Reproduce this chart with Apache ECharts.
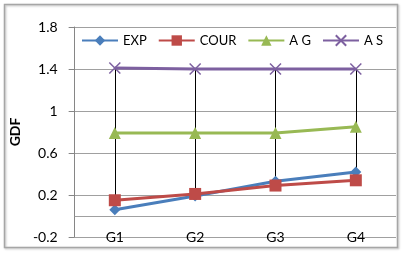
<!DOCTYPE html>
<html><head><meta charset="utf-8">
<script src="https://cdn.jsdelivr.net/npm/echarts@6/dist/echarts.min.js"></script>
<style>html,body{margin:0;padding:0;background:#fff}#c{width:403px;height:256px}</style>
</head><body><div id="c"></div>
<script>
const categories = ['G1', 'G2', 'G3', 'G4'];
const seriesNames = ['EXP', 'COUR', 'A G', 'A S'];
const expValues = [0.06, 0.19, 0.33, 0.42];
const courValues = [0.15, 0.21, 0.29, 0.34];
const agValues = [0.79, 0.79, 0.79, 0.85];
const asValues = [1.41, 1.40, 1.40, 1.40];
const yTicks = { min: -0.2, max: 1.8, interval: 0.4 };

const allSeries = [expValues, courValues, agValues, asValues];
const hiLo = categories.map((c, i) => {
  const vals = allSeries.map(s => s[i]);
  return [i, Math.max(...vals), Math.min(...vals)];
});

const FONT = 'Lato';
const chart = echarts.init(document.getElementById('c'), null, { renderer: 'canvas' });
const crossPath = 'path://M0,0 L10,10 M10,0 L0,10';

chart.setOption({
  animation: false,
  textStyle: { fontFamily: FONT },
  graphic: [{
    type: 'rect', shape: { x: 4.5, y: 4.5, width: 393, height: 243 },
    style: { fill: 'none', stroke: '#a6a6a6', lineWidth: 1.5, shadowBlur: 2, shadowColor: 'rgba(0,0,0,0.25)', shadowOffsetX: 1, shadowOffsetY: 1 },
    z: -10
  }],
  grid: { left: 64, top: 27, width: 332, height: 210, containLabel: false },
  legend: {
    left: 76, top: 29, width: 322, itemWidth: 36, itemHeight: 13, itemGap: 11,
    textStyle: { fontFamily: FONT, fontSize: 13, color: '#000' },
    data: seriesNames
  },
  xAxis: {
    type: 'category', data: categories, boundaryGap: true,
    axisLine: { show: false, onZero: false }, axisTick: { show: false },
    axisLabel: { color: '#000', fontSize: 14, fontFamily: FONT, margin: -7 },
    splitLine: { show: false }
  },
  yAxis: {
    type: 'value', min: yTicks.min, max: yTicks.max, interval: yTicks.interval,
    name: 'GDF', nameLocation: 'middle', nameGap: 37,
    nameTextStyle: { fontWeight: 'bold', fontSize: 14, color: '#000', fontFamily: FONT },
    axisLine: { show: true, lineStyle: { color: '#868686' } },
    axisTick: { show: true, length: 6, lineStyle: { color: '#868686' } },
    axisLabel: { color: '#000', fontSize: 14, fontFamily: FONT, margin: 17 },
    splitLine: { show: true, lineStyle: { color: '#a0a0a0', width: 1 } }
  },
  series: [
    {
      type: 'custom', name: 'hilo', z: 1, silent: true,
      renderItem: function (params, api) {
        const p1 = api.coord([api.value(0), api.value(1)]);
        const p2 = api.coord([api.value(0), api.value(2)]);
        return { type: 'line', shape: { x1: Math.round(p1[0]) + 0.5, y1: p1[1], x2: Math.round(p2[0]) + 0.5, y2: p2[1] },
          style: { stroke: '#000', lineWidth: 1 } };
      },
      encode: { x: 0, y: [1, 2] },
      data: hiLo,
      markLine: {
        silent: true, symbol: 'none', label: { show: false },
        lineStyle: { color: '#a0a0a0', type: 'solid', width: 1 },
        data: [{ yAxis: 0 }]
      }
    },
    {
      name: 'EXP', type: 'line', data: expValues, z: 3,
      symbol: 'diamond', symbolSize: 11,
      lineStyle: { color: '#4a7ebb', width: 3 }, itemStyle: { color: '#4a7ebb' }
    },
    {
      name: 'COUR', type: 'line', data: courValues, z: 4,
      symbol: 'rect', symbolSize: 12,
      lineStyle: { color: '#be4b48', width: 3 }, itemStyle: { color: '#be4b48' }
    },
    {
      name: 'A G', type: 'line', data: agValues, z: 3,
      symbol: 'triangle', symbolSize: 12,
      lineStyle: { color: '#98b954', width: 3 }, itemStyle: { color: '#98b954' }
    },
    {
      name: 'A S', type: 'line', data: asValues, z: 3,
      symbol: crossPath, symbolSize: 11,
      lineStyle: { color: '#7d60a0', width: 3 }, itemStyle: { color: '#7d60a0', borderColor: '#7d60a0', borderWidth: 1.5 }
    }
  ]
});
</script></body></html>
